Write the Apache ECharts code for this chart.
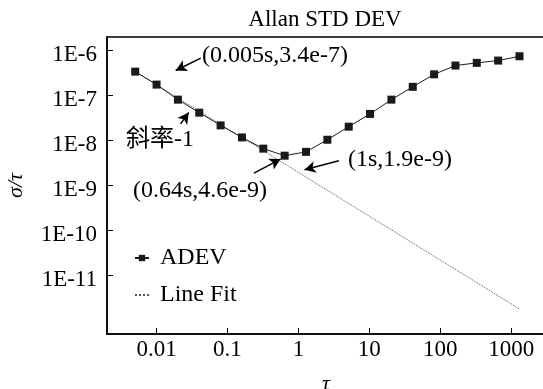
<!DOCTYPE html>
<html>
<head>
<meta charset="utf-8">
<script src="https://cdn.jsdelivr.net/npm/echarts@6/dist/echarts.min.js"></script>
<style>
  html, body { margin: 0; padding: 0; background: #fff; }
  #chart { width: 543px; height: 389px; }
</style>
</head>
<body>
<div id="chart"></div>
<script>
// averaging time tau (s)
var tau = [0.005, 0.01, 0.02, 0.04, 0.08, 0.16, 0.32, 0.64, 1.28, 2.56, 5.12,
  10.24, 20.48, 40.96, 81.92, 163.84, 327.68, 655.36, 1310.72];
// allan deviation
var adev = [3.4e-7, 1.75e-7, 8.1e-8, 4.16e-8, 2.17e-8, 1.17e-8, 6.6e-9, 4.6e-9,
  5.6e-9, 1.04e-8, 2.03e-8, 3.9e-8, 8.1e-8, 1.56e-7, 2.96e-7, 4.64e-7, 5.32e-7,
  5.98e-7, 7.47e-7];
// slope -1 fit, end points
var fitTau = [0.005, 1310.72];
var fitVal = [3.4e-7, 1.8e-12];

var xTicks = [0.01, 0.1, 1, 10, 100, 1000];
var yTicks = [1e-11, 1e-10, 1e-9, 1e-8, 1e-7, 1e-6];

// annotation arrows: [tailTau, tailVal, headTau, headVal]
var arrows = [
  [0.042, 6.8e-7, 0.0186, 3.6e-7],
  [0.0218, 2.35e-8, 0.0284, 4.2e-8],
  [0.236, 1.89e-9, 0.561, 3.87e-9],
  [3.72, 3.55e-9, 1.22, 2.24e-9]
];

var serif = "'Liberation Serif', 'Noto Sans CJK SC', serif";

var chart = echarts.init(document.getElementById('chart'));

function pairs(xs, ys) {
  return xs.map(function (x, i) { return [x, ys[i]]; });
}

function note(text, x, y) {
  return {
    type: 'text', left: x, top: y - 13,
    style: { text: text, fontFamily: serif, fontSize: 24, fill: '#000' }
  };
}

var option = {
  animation: false,
  title: {
    text: 'Allan STD DEV',
    left: 325, top: 8, textAlign: 'center', padding: 0,
    textStyle: { fontFamily: serif, fontSize: 23, fontWeight: 'normal', color: '#000' }
  },
  grid: {
    left: 107, right: -2, top: 37, bottom: 55,
    outerBoundsMode: 'none', containLabel: false,
    show: true, borderColor: '#000', borderWidth: 1.5, backgroundColor: 'transparent'
  },
  legend: {
    orient: 'vertical', left: 134, top: 246, padding: 0,
    itemWidth: 14, itemHeight: 8, itemGap: 13,
    textStyle: { fontFamily: serif, fontSize: 24, color: '#000', padding: [0, 0, 0, 6] },
    data: ['ADEV', 'Line Fit']
  },
  xAxis: {
    type: 'log', logBase: 10, min: 0.002, max: 3000,
    name: 'τ', nameLocation: 'middle', nameGap: 39,
    nameTextStyle: { fontFamily: serif, fontSize: 22, fontStyle: 'italic', color: '#000' },
    axisLine: { lineStyle: { color: '#000', width: 1.5 } },
    axisTick: { inside: true, length: 6, lineStyle: { color: '#000' }, customValues: xTicks },
    axisLabel: {
      margin: 4, fontFamily: serif, fontSize: 23, color: '#000', customValues: xTicks,
      formatter: function (v) { return String(v); }
    },
    splitLine: { show: false }, minorTick: { show: false }
  },
  yAxis: {
    type: 'log', logBase: 10, min: 5e-13, max: 2e-6,
    name: 'σ/τ', nameLocation: 'middle', nameGap: 80, nameRotate: 90,
    nameTextStyle: { fontFamily: serif, fontSize: 22, fontStyle: 'italic', color: '#000' },
    axisLine: { lineStyle: { color: '#000', width: 1.5 } },
    axisTick: { inside: true, length: 6, lineStyle: { color: '#000' }, customValues: yTicks },
    axisLabel: {
      margin: 10, fontFamily: serif, fontSize: 23, color: '#000', customValues: yTicks,
      verticalAlign: 'top', lineHeight: 9,
      formatter: function (v) { return '1E' + Math.round(Math.log10(v)); }
    },
    splitLine: { show: false }, minorTick: { show: false }
  },
  series: [
    {
      name: 'ADEV', type: 'line',
      data: pairs(tau, adev),
      symbol: 'rect', symbolSize: 8,
      itemStyle: { color: '#1a1a1a' },
      lineStyle: { color: '#1a1a1a', width: 1 },
      z: 3,
      markLine: {
        silent: true, symbol: ['none', 'arrow'], symbolSize: [9, 11],
        label: { show: false },
        lineStyle: { color: '#000', width: 1.5, type: 'solid' },
        data: arrows.map(function (a) {
          return [{ coord: [a[0], a[1]] }, { coord: [a[2], a[3]] }];
        })
      }
    },
    {
      name: 'Line Fit', type: 'line',
      data: pairs(fitTau, fitVal),
      symbol: 'none',
      itemStyle: { color: 'rgba(0,0,0,0)' },
      lineStyle: { color: '#555', width: 1, type: 'dotted' },
      z: 2
    }
  ],
  graphic: [
    note('(0.005s,3.4e-7)', 202, 57),
    note('斜率-1', 126, 141),
    note('(0.64s,4.6e-9)', 133, 192),
    note('(1s,1.9e-9)', 348, 161)
  ]
};

chart.setOption(option);
</script>
</body>
</html>
